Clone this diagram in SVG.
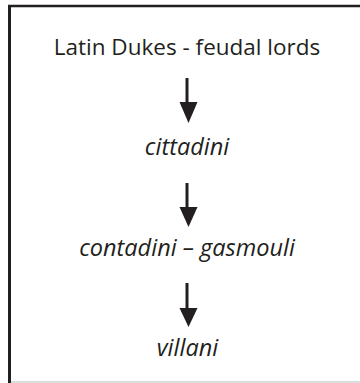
<svg xmlns="http://www.w3.org/2000/svg" width="360" height="383" viewBox="0 0 360 383">
<style>
.t{font-family:"Open Sans","Noto Sans",sans-serif;font-size:22.5px;fill:#231f20;text-anchor:middle}
.i{font-style:italic;font-size:23.5px}
.shaft{stroke:#231f20;stroke-width:3}
.head{fill:#231f20}
</style>
<rect x="0" y="0" width="360" height="383" fill="#fff"/>
<line x1="8" y1="6" x2="360" y2="6" stroke="#231f20" stroke-width="2.5"/>
<line x1="9.5" y1="5" x2="9.5" y2="383" stroke="#231f20" stroke-width="3"/>
<line x1="11" y1="382" x2="360" y2="382" stroke="#bbb" stroke-width="1.2"/>
<g id="n1"><text class="t" x="187" y="55">Latin Dukes - feudal lords</text></g>
<g id="n2"><text class="t i" x="187" y="155">cittadini</text></g>
<g id="n3"><text class="t i" x="187" y="256">contadini – gasmouli</text></g>
<g id="n4"><text class="t i" x="187.5" y="356">villani</text></g>
<g id="connectors">
<line class="shaft" x1="187" y1="78" x2="187" y2="104"/>
<polygon class="head" points="179.5,102 197.5,102 188.5,123"/>
<line class="shaft" x1="187" y1="183" x2="187" y2="209"/>
<polygon class="head" points="179.5,207 197.5,207 188.5,227"/>
<line class="shaft" x1="187" y1="283" x2="187" y2="310"/>
<polygon class="head" points="179.5,308 197.5,308 188.5,327"/>
</g>
</svg>
